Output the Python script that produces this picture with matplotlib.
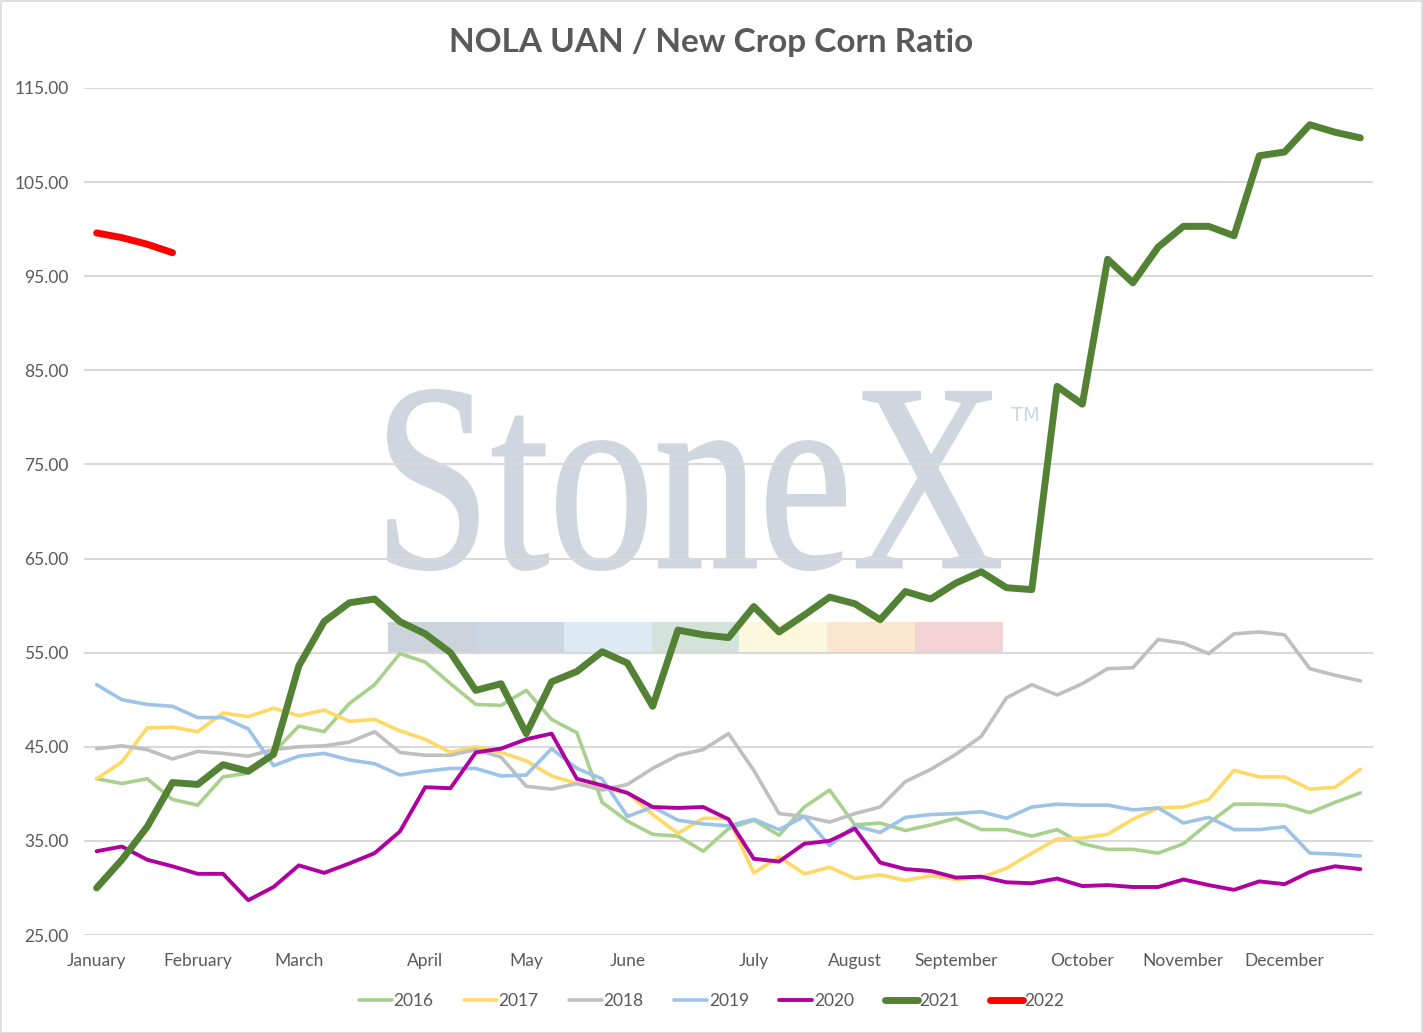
import matplotlib
matplotlib.use("Agg")
import matplotlib.pyplot as plt
from matplotlib.patches import PathPatch, Rectangle
from matplotlib.textpath import TextPath
from matplotlib.font_manager import FontProperties
from matplotlib.transforms import Affine2D

# weekly NOLA UAN / new crop corn ratio, one value per week (51 weeks)
y2016 = [41.6, 41.1, 41.6, 39.4, 38.8, 41.8, 42.2, 44.4, 47.2, 46.6,
         49.6, 51.6, 54.9, 54.0, 51.7, 49.5, 49.4, 51.0, 47.9, 46.5,
         39.1, 37.1, 35.7, 35.5, 33.9, 36.3, 37.2, 35.6, 38.6, 40.4,
         36.7, 36.9, 36.1, 36.7, 37.4, 36.2, 36.2, 35.5, 36.2, 34.7,
         34.1, 34.1, 33.7, 34.7, 36.9, 38.9, 38.9, 38.8, 38.0, 39.1, 40.1]
y2017 = [41.6, 43.4, 47.0, 47.1, 46.6, 48.6, 48.2, 49.1, 48.3, 48.9,
         47.7, 47.9, 46.7, 45.8, 44.4, 45.0, 44.4, 43.5, 41.9, 41.1,
         40.6, 40.1, 37.8, 35.8, 37.4, 37.4, 31.6, 33.3, 31.5, 32.2,
         31.0, 31.4, 30.8, 31.3, 30.9, 31.1, 32.1, 33.7, 35.2, 35.3,
         35.7, 37.3, 38.5, 38.6, 39.4, 42.5, 41.8, 41.8, 40.5, 40.7, 42.6]
y2018 = [44.8, 45.1, 44.7, 43.7, 44.5, 44.3, 44.0, 44.7, 45.0, 45.1,
         45.5, 46.6, 44.4, 44.1, 44.1, 44.7, 43.9, 40.8, 40.5, 41.1,
         40.4, 41.0, 42.7, 44.1, 44.7, 46.4, 42.5, 37.9, 37.6, 37.0,
         37.9, 38.6, 41.3, 42.6, 44.2, 46.1, 50.2, 51.6, 50.5, 51.7,
         53.3, 53.4, 56.4, 56.0, 54.9, 57.0, 57.2, 56.9, 53.3, 52.6, 52.0]
y2019 = [51.6, 50.0, 49.5, 49.3, 48.1, 48.1, 46.9, 43.0, 44.0, 44.3,
         43.6, 43.2, 42.0, 42.4, 42.7, 42.7, 41.9, 42.0, 44.8, 42.7,
         41.6, 37.6, 38.6, 37.2, 36.8, 36.6, 37.3, 36.2, 37.6, 34.5,
         36.6, 35.9, 37.5, 37.8, 37.9, 38.1, 37.4, 38.6, 38.9, 38.8,
         38.8, 38.3, 38.5, 36.9, 37.5, 36.2, 36.2, 36.5, 33.7, 33.6, 33.4]
y2020 = [33.9, 34.4, 33.0, 32.3, 31.5, 31.5, 28.7, 30.1, 32.4, 31.6,
         32.6, 33.7, 36.0, 40.7, 40.6, 44.4, 44.8, 45.8, 46.4, 41.6,
         40.9, 40.1, 38.6, 38.5, 38.6, 37.3, 33.1, 32.8, 34.7, 35.0,
         36.3, 32.7, 32.0, 31.8, 31.1, 31.2, 30.6, 30.5, 31.0, 30.2,
         30.3, 30.1, 30.1, 30.9, 30.3, 29.8, 30.7, 30.4, 31.7, 32.3, 32.0]
y2021 = [30.0, 33.0, 36.5, 41.2, 41.0, 43.1, 42.4, 44.2, 53.6, 58.3,
         60.3, 60.7, 58.3, 57.0, 55.0, 51.0, 51.7, 46.4, 51.9, 53.0,
         55.1, 53.9, 49.3, 57.4, 56.9, 56.6, 59.9, 57.2, 59.0, 60.9,
         60.2, 58.5, 61.5, 60.7, 62.4, 63.6, 61.9, 61.7, 83.3, 81.4,
         96.8, 94.3, 98.1, 100.3, 100.3, 99.3, 107.8, 108.2, 111.1, 110.3, 109.7]
y2022 = [99.6, 99.1, 98.4, 97.5]

years = ["2016", "2017", "2018", "2019", "2020", "2021", "2022"]
series = [y2016, y2017, y2018, y2019, y2020, y2021, y2022]
colors = ["#a9d18e", "#ffd966", "#bfbfbf", "#9dc3e6", "#b000a0", "#548235", "#ff0000"]
widths = [2.6, 2.6, 2.6, 2.6, 2.8, 5.0, 5.0]

month_names = ["January", "February", "March", "April", "May", "June", "July",
               "August", "September", "October", "November", "December"]
month_weeks = [0, 4, 8, 13, 17, 21, 26, 30, 34, 39, 43, 47]

W, H = 1423, 1033
text_color = "#595959"
grid_color = "#d9d9d9"
plt.rcParams['font.family'] = ['Lato', 'DejaVu Sans']

fig = plt.figure(figsize=(W / 100, H / 100), dpi=100)
ax = fig.add_axes([84 / W, 1 - 935 / H, (1373 - 84) / W, (935 - 88) / H])
ax.set_facecolor("none")


def fx(px):
    return px / W


def fy(py):
    return 1 - py / H


# StoneX watermark behind the plot
tp = TextPath((0, 0), "StoneX", size=100, prop=FontProperties(family="Liberation Serif"))
ext = tp.get_extents()
x0, x1, ytop, ybot = fx(388), fx(1000), fy(390), fy(570)
tr = (Affine2D().translate(-ext.x0, -ext.y0)
      .scale((x1 - x0) / ext.width, (ytop - ybot) / ext.height)
      .translate(x0, ybot) + fig.transFigure)
wm = PathPatch(tp, transform=tr, facecolor="#cfd6df", edgecolor="#cfd6df", lw=1.5, zorder=-2)
fig.add_artist(wm)
fig.text(fx(1011), fy(425), "TM", fontsize=14, color="#cfd6df",
         family="Liberation Sans Narrow", ha="left", va="bottom", zorder=-2)
band_colors = ["#ccd3dd", "#cdd7e3", "#dde9f3", "#d3e2da", "#fbf8dd", "#fbe6cf", "#f2d2d5"]
seg = (1003 - 388) / len(band_colors)
for k, c in enumerate(band_colors):
    fig.add_artist(Rectangle((fx(388 + k * seg), fy(652)), seg / W, 30 / H,
                             transform=fig.transFigure, facecolor=c,
                             edgecolor="none", zorder=-2))

for yr, vals, c, lw in zip(years, series, colors, widths):
    ax.plot(range(len(vals)), vals, color=c, lw=lw, label=yr,
            solid_capstyle="round", solid_joinstyle="round")

ax.set_xlim(-0.5, 50.5)
ax.set_ylim(25, 115)
ax.set_yticks(range(25, 116, 10))
ax.set_yticklabels([f"{v:.2f}" for v in range(25, 116, 10)])
ax.set_xticks(month_weeks)
ax.set_xticklabels(month_names)
ax.grid(axis="y", color=grid_color, lw=1.5)
ax.set_axisbelow(True)
for s in ax.spines.values():
    s.set_visible(False)
ax.tick_params(axis="both", length=0, labelsize=12.5, colors=text_color)
ax.tick_params(axis="y", pad=11)
ax.tick_params(axis="x", pad=13)

fig.suptitle("NOLA UAN / New Crop Corn Ratio", x=0.5, y=fy(28), va="top",
             fontsize=24, fontweight="bold", color=text_color)

leg = fig.legend(loc="center", bbox_to_anchor=(0.5, fy(1001)), ncol=7, frameon=False,
                 fontsize=12.5, handlelength=1.9, handletextpad=0.1, columnspacing=1.75,
                 labelcolor=text_color)

fig.add_artist(Rectangle((0.5 / W, 0.5 / H), 1 - 1.5 / W, 1 - 1.5 / H,
                         transform=fig.transFigure, facecolor="none",
                         edgecolor=grid_color, lw=1.2))

fig.savefig("out.png", dpi=100)
